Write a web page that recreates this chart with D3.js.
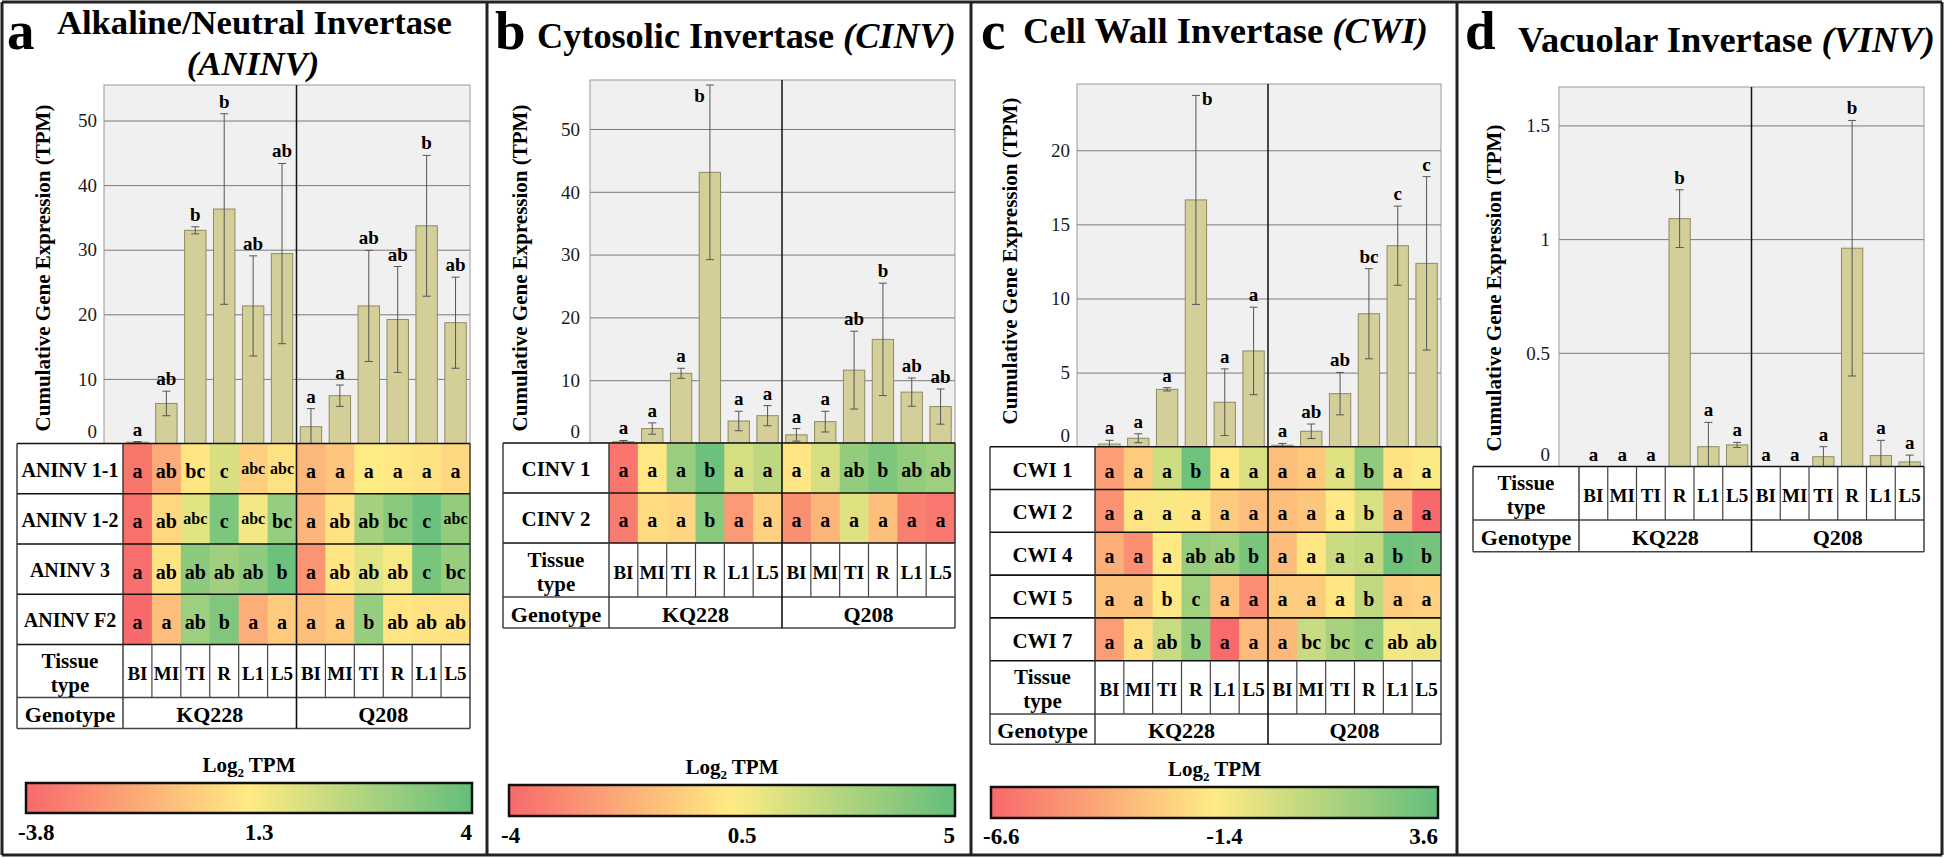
<!DOCTYPE html>
<html><head><meta charset="utf-8">
<script src="https://cdn.jsdelivr.net/npm/d3@7"></script>
<style>
body{margin:0;background:#fff;}
text{white-space:pre;}
</style></head><body>
<svg id="chart" width="1944" height="858" font-family="'Liberation Serif', 'Times New Roman', Tinos, 'DejaVu Serif', serif"></svg>
<script>
// ---------------- DATA ----------------
const tissues = ["BI","MI","TI","R","L1","L5"];
const genotypes = ["KQ228","Q208"];
const heatColors = ["#F8696B","#FFEB84","#63BE7B"];

// Panel a: ANINV
const aninvTicks = [0,10,20,30,40,50];
const aninvMean = [0.2, 6.2, 33.0, 36.3, 21.3, 29.4, 2.6, 7.4, 21.3, 19.2, 33.7, 18.7];
const aninvSE   = [0.1, 1.9, 0.55, 14.75, 7.75, 13.95, 2.8, 1.65, 8.6, 8.2, 10.9, 7.05];
const aninvBarLetters = ["a","ab","b","b","ab","ab","a","a","ab","ab","b","ab"];
const aninvGenes = ["ANINV 1-1","ANINV 1-2","ANINV 3","ANINV F2"];
const aninvHeat = [
  [-3.3, -1.25, 1.1, 2.0, 0.2, 0.9, -0.75, -0.2, 1.3, 1.2, 1.0, 0.55],
  [-3.5, 0.5, 1.8, 3.55, 1.5, 3.1, -0.8, 1.0, 2.85, 3.35, 3.85, 3.15],
  [-3.6, 1.0, 3.3, 2.95, 3.25, 3.85, -2.1, 1.1, 1.8, 1.45, 3.6, 3.1],
  [-3.8, -0.45, 3.0, 3.5, -1.1, 0.0, -0.5, 0.0, 3.1, 1.1, 1.0, 0.9]
];
const aninvHeatLetters = [
  ["a","ab","bc","c","abc","abc","a","a","a","a","a","a"],
  ["a","ab","abc","c","abc","bc","a","ab","ab","bc","c","abc"],
  ["a","ab","ab","ab","ab","b","a","ab","ab","ab","c","bc"],
  ["a","a","ab","b","a","a","a","a","b","ab","ab","ab"]
];
const aninvScale = [-3.8, 1.3, 4];

// Panel b: CINV
const cinvTicks = [0,10,20,30,40,50];
const cinvMean = [0.2, 2.3, 11.1, 43.1, 3.5, 4.35, 1.3, 3.4, 11.6, 16.5, 8.1, 5.8];
const cinvSE   = [0.2, 0.9, 0.8, 13.9, 1.55, 1.6, 1.0, 1.65, 6.2, 8.95, 2.25, 2.8];
const cinvBarLetters = ["a","a","a","b","a","a","a","a","ab","b","ab","ab"];
const cinvGenes = ["CINV 1","CINV 2"];
const cinvHeat = [
  [-3.6, 0.4, 3.4, 4.7, 1.7, 2.4, 0.3, 1.7, 3.6, 4.2, 3.6, 3.3],
  [-3.3, -0.05, -0.25, 3.9, -2.3, -0.45, -2.7, -1.4, 1.4, -1.0, -3.2, -3.5]
];
const cinvHeatLetters = [
  ["a","a","a","b","a","a","a","a","ab","b","ab","ab"],
  ["a","a","a","b","a","a","a","a","a","a","a","a"]
];
const cinvScale = [-4, 0.5, 5];

// Panel c: CWI
const cwiTicks = [0,5,10,15,20];
const cwiMean = [0.18, 0.57, 3.87, 16.65, 3.0, 6.46, 0.1, 1.04, 3.58, 8.97, 13.56, 12.37];
const cwiSE   = [0.25, 0.3, 0.11, 7.05, 2.25, 2.95, 0.12, 0.49, 1.43, 3.04, 2.67, 5.85];
const cwiBarLetters = ["a","a","a","b","a","a","a","ab","ab","bc","c","c"];
const cwiGenes = ["CWI 1","CWI 2","CWI 4","CWI 5","CWI 7"];
const cwiHeat = [
  [-4.5, -2.7, 0.15, 3.2, -1.5, -0.2, -3.2, -2.85, -0.4, 2.2, -1.75, -1.3],
  [-5.0, -1.7, -1.2, -1.6, -2.7, -3.2, -3.2, -2.9, -1.5, -0.15, -3.8, -6.6],
  [-3.85, -5.1, -1.5, 2.0, 1.75, 2.85, -3.3, -1.6, 0.3, 0.55, 3.2, 3.0],
  [-3.0, -3.0, -1.5, 1.6, -3.1, -5.15, -2.7, -2.65, -1.6, 0.6, -2.7, -2.5],
  [-4.5, -1.85, 0.35, 2.05, -6.55, -3.35, -3.4, 0.35, 1.35, 2.0, -1.0, -0.8]
];
const cwiHeatLetters = [
  ["a","a","a","b","a","a","a","a","a","b","a","a"],
  ["a","a","a","a","a","a","a","a","a","b","a","a"],
  ["a","a","a","ab","ab","b","a","a","a","a","b","b"],
  ["a","a","b","c","a","a","a","a","a","b","a","a"],
  ["a","a","ab","b","a","a","a","bc","bc","c","ab","ab"]
];
const cwiScale = [-6.6, -1.4, 3.6];

// Panel d: VINV
const vinvTicks = [0,0.5,1,1.5];
const vinvMean = [0, 0, 0, 1.09, 0.087, 0.095, 0, 0, 0.043, 0.96, 0.048, 0.02];
const vinvSE   = [0, 0, 0, 0.127, 0.107, 0.011, 0, 0, 0.044, 0.562, 0.067, 0.03];
const vinvBarLetters = ["a","a","a","b","a","a","a","a","a","b","a","a"];

// ---------------- DRAW ----------------
const FONT = "'Liberation Serif', 'Times New Roman', Tinos, 'DejaVu Serif', serif";
const svg = d3.select("#chart");
const defs = svg.append("defs");
const categories = genotypes.flatMap(g => tissues.map(t => g + "-" + t));

const panels = [
  {letter:"a", letterX:7, letterY:49,
   title:[{parts:[["Alkaline/Neutral Invertase",false]], x:57, y:34, anchor:"start", width:395},
          {parts:[["(ANINV)",true]], x:253, y:75, anchor:"middle"}],
   x0:104, x1:470, colX0:123, y0:85, yZero:443.5, yMax:55.5, ticks:aninvTicks, tickPad:7,
   ylab:{x:43, y:268},
   mean:aninvMean, se:aninvSE, barLetters:aninvBarLetters, side:"left",
   genes:aninvGenes, heat:aninvHeat, heatLetters:aninvHeatLetters, scale:aninvScale,
   tableX0:17, rowH:50.25, tissueH:53, genoH:31, geneFont:20, cellFont:20,
   cbar:{x0:26, x1:472, y0:783, h:30, labY:840}},
  {letter:"b", letterX:495, letterY:49,
   title:[{parts:[["Cytosolic Invertase ",false],["(CINV)",true]], x:537, y:48, anchor:"start", width:419}],
   x0:590, x1:955, colX0:609, y0:80, yZero:443, yMax:57.8, ticks:cinvTicks, tickPad:10,
   ylab:{x:520, y:268},
   mean:cinvMean, se:cinvSE, barLetters:cinvBarLetters, side:"left",
   genes:cinvGenes, heat:cinvHeat, heatLetters:cinvHeatLetters, scale:cinvScale,
   tableX0:503, rowH:50, tissueH:54, genoH:31, geneFont:21, cellFont:20,
   cbar:{x0:509, x1:955, y0:785, h:31, labY:843}},
  {letter:"c", letterX:981, letterY:49,
   title:[{parts:[["Cell Wall Invertase ",false],["(CWI)",true]], x:1023, y:43, anchor:"start", width:405}],
   x0:1077, x1:1441, colX0:1095, y0:84, yZero:446.7, yMax:24.47, ticks:cwiTicks, tickPad:7,
   ylab:{x:1010, y:261},
   mean:cwiMean, se:cwiSE, barLetters:cwiBarLetters, side:"right",
   genes:cwiGenes, heat:cwiHeat, heatLetters:cwiHeatLetters, scale:cwiScale,
   tableX0:990, rowH:42.8, tissueH:53.3, genoH:30.3, geneFont:21, cellFont:20,
   cbar:{x0:991, x1:1438, y0:787, h:31, labY:844}},
  {letter:"d", letterX:1465, letterY:49,
   title:[{parts:[["Vacuolar Invertase ",false],["(VINV)",true]], x:1518, y:52, anchor:"start", width:417}],
   x0:1559, x1:1924, colX0:1579, y0:87, yZero:466.5, yMax:1.669, ticks:vinvTicks, tickPad:9,
   ylab:{x:1494, y:288},
   mean:vinvMean, se:vinvSE, barLetters:vinvBarLetters, side:"left",
   genes:[], heat:[], heatLetters:[], scale:null,
   tableX0:1473, rowH:0, tissueH:53.5, genoH:31.7, geneFont:21, cellFont:20,
   cbar:null}
];

function T(sel){ return sel.append("text").attr("font-family", FONT); }

function drawPanel(p){
  const g = svg.append("g");
  // panel letter
  T(g).attr("x",p.letterX).attr("y",p.letterY)
    .attr("font-size",55).attr("font-weight","bold").text(p.letter);
  // title
  let fs = 36;
  p.title.forEach((ln,i)=>{
    const t = T(g).attr("x",ln.x).attr("y",ln.y).attr("text-anchor",ln.anchor)
      .attr("font-weight","bold").attr("font-size",36);
    ln.parts.forEach(([s,it]) => t.append("tspan").attr("font-style", it ? "italic" : "normal").text(s));
    if(i===0){ fs = Math.min(38, 36 * ln.width / t.node().getComputedTextLength()); }
    t.attr("font-size", fs);
  });

  const x = d3.scaleBand().domain(categories).range([p.colX0, p.x1]).paddingInner(0).paddingOuter(0);
  const y = d3.scaleLinear().domain([0, p.yMax]).range([p.yZero, p.y0]);
  const bw = x.bandwidth();
  const divX = x(categories[6]);

  // plot background
  g.append("rect").attr("x",p.x0).attr("y",p.y0).attr("width",p.x1-p.x0).attr("height",p.yZero-p.y0)
    .attr("fill","#f0f0f0");
  // gridlines
  const grid = g.append("g").attr("transform",`translate(${p.x0},0)`)
    .call(d3.axisLeft(y).tickValues(p.ticks.filter(t=>t>0)).tickSize(-(p.x1-p.x0)).tickFormat(""));
  grid.select(".domain").remove();
  grid.selectAll("line").attr("stroke","#7a7a7a").attr("stroke-width",1);
  // tick labels
  const ax = g.append("g").attr("transform",`translate(${p.x0},0)`)
    .call(d3.axisLeft(y).tickValues(p.ticks).tickSize(0).tickPadding(p.tickPad).tickFormat(d=>String(d)));
  ax.select(".domain").remove();
  ax.attr("font-family", FONT);
  ax.selectAll("text").attr("font-size",19).attr("fill","#1a1a1a").attr("font-family", FONT)
    .attr("dy", d => d===0 ? "-0.3em" : "0.33em");
  // y label
  const yl = T(g).attr("transform",`translate(${p.ylab.x},${p.ylab.y}) rotate(-90)`)
    .attr("text-anchor","middle").attr("dominant-baseline","central")
    .attr("font-weight","bold").attr("font-size",20).text("Cumulative Gene Expression (TPM)");
  yl.attr("font-size", Math.min(21, 20*335/yl.node().getComputedTextLength()));

  // bars
  const bars = categories.map((c,i)=>({c, m:p.mean[i], s:p.se[i], l:p.barLetters[i]}));
  const barW = bw*0.74;
  g.append("g").selectAll("rect").data(bars.filter(d=>d.m>0)).join("rect")
    .attr("x", d => x(d.c) + (bw-barW)/2).attr("width", barW)
    .attr("y", d => y(d.m)).attr("height", d => y(0)-y(d.m))
    .attr("fill","#d4cf98").attr("stroke","#8e8b62").attr("stroke-width",1);
  // error bars
  const eg = g.append("g").attr("stroke","#555").attr("stroke-width",1);
  bars.filter(d=>d.s>0).forEach(d=>{
    const cx = x(d.c)+bw/2;
    const hi = y(d.m+d.s), lo = y(Math.max(0,d.m-d.s));
    eg.append("line").attr("x1",cx).attr("x2",cx).attr("y1",hi).attr("y2",lo);
    eg.append("line").attr("x1",cx-4).attr("x2",cx+4).attr("y1",hi).attr("y2",hi);
    if(d.m-d.s>0) eg.append("line").attr("x1",cx-4).attr("x2",cx+4).attr("y1",lo).attr("y2",lo);
  });
  // significance letters
  bars.forEach(d=>{
    const cx = x(d.c)+bw/2;
    const top = y(d.m+d.s);
    const t = T(g).attr("font-weight","bold").attr("font-size",19).text(d.l);
    if(top - 6 - 14 < p.y0){
      if(p.side==="left") t.attr("x",cx-5).attr("y",top+17).attr("text-anchor","end");
      else t.attr("x",cx+6).attr("y",top+10).attr("text-anchor","start");
    } else {
      t.attr("x",cx).attr("y",top-6).attr("text-anchor","middle");
    }
  });
  // plot frame & divider
  g.append("rect").attr("x",p.x0).attr("y",p.y0).attr("width",p.x1-p.x0).attr("height",p.yZero-p.y0)
    .attr("fill","none").attr("stroke","#9a9a9a").attr("stroke-width",1);
  g.append("line").attr("x1",divX).attr("x2",divX).attr("y1",p.y0).attr("y2",p.yZero)
    .attr("stroke","#111").attr("stroke-width",1.5);

  // ---------- heatmap table ----------
  const tX0 = p.tableX0, tX1 = p.x1, lab1 = p.colX0;
  const hTop = p.yZero;
  const nR = p.genes.length;
  const hBot = hTop + nR*p.rowH;
  const tisBot = hBot + p.tissueH;
  const genBot = tisBot + p.genoH;
  const labCx = (tX0+lab1)/2;
  const tg = g.append("g");
  tg.append("rect").attr("x",tX0).attr("y",hTop).attr("width",tX1-tX0).attr("height",genBot-hTop).attr("fill","#fff");
  if(nR>0){
    const color = d3.scaleLinear().domain(p.scale).range(heatColors).interpolate(d3.interpolateRgb);
    p.genes.forEach((gene,r)=>{
      const ry = hTop + r*p.rowH;
      tg.selectAll(null).data(categories).join("rect")
        .attr("x", c => x(c)).attr("y", ry).attr("width", bw+0.6).attr("height", p.rowH)
        .attr("fill", (c,i) => color(p.heat[r][i]));
      tg.selectAll(null).data(categories).join("text").attr("font-family", FONT)
        .attr("x", c => x(c)+bw/2).attr("y", (c,i)=> ry + p.rowH/2 + (p.heatLetters[r][i].length>2 ? 5 : 0.42*p.cellFont+1))
        .attr("text-anchor","middle").attr("font-weight","bold")
        .attr("font-size", (c,i)=> p.heatLetters[r][i].length>2 ? 16 : p.cellFont)
        .text((c,i)=>p.heatLetters[r][i]);
      T(tg).attr("x",labCx).attr("y", ry + p.rowH/2 + 0.33*p.geneFont + 1.5)
        .attr("text-anchor","middle").attr("font-weight","bold").attr("font-size",p.geneFont).text(gene);
    });
  }
  // tissue row
  const tcy = hBot + p.tissueH/2;
  T(tg).attr("x",labCx).attr("y",tcy-3).attr("text-anchor","middle")
    .attr("font-weight","bold").attr("font-size",21).text("Tissue");
  T(tg).attr("x",labCx).attr("y",tcy+21).attr("text-anchor","middle")
    .attr("font-weight","bold").attr("font-size",21).text("type");
  tg.selectAll(null).data(categories).join("text").attr("font-family", FONT)
    .attr("x", c => x(c)+bw/2).attr("y", tcy + 0.36*19 + 2).attr("text-anchor","middle")
    .attr("font-weight","bold").attr("font-size",19).text((c,i)=>tissues[i%6]);
  // genotype row
  const gcy = tisBot + p.genoH/2;
  T(tg).attr("x",labCx).attr("y",gcy+0.33*22+2).attr("text-anchor","middle")
    .attr("font-weight","bold").attr("font-size",22).text("Genotype");
  genotypes.forEach((gt,k)=>{
    const gx0 = x(categories[k*6]), gx1 = x(categories[k*6+5]) + bw;
    T(tg).attr("x",(gx0+gx1)/2).attr("y",gcy+0.33*22+2).attr("text-anchor","middle")
      .attr("font-weight","bold").attr("font-size",22).text(gt);
  });
  // table lines
  const L = (x1,y1,x2,y2,c,w)=>tg.append("line").attr("x1",x1).attr("y1",y1).attr("x2",x2).attr("y2",y2)
      .attr("stroke",c).attr("stroke-width",w);
  for(let r=0;r<=nR;r++) L(tX0, hTop+r*p.rowH, tX1, hTop+r*p.rowH, "#111", 1.6);
  L(tX0, tisBot, tX1, tisBot, "#444", 1.4);
  L(tX0, genBot, tX1, genBot, "#444", 1.4);
  L(tX0, hTop, tX0, genBot, "#333", 1.4);
  L(tX1, hTop, tX1, genBot, "#333", 1.4);
  L(lab1, hTop, lab1, genBot, "#333", 1.4);
  L(divX, hTop, divX, genBot, "#111", 1.6);
  categories.forEach((c,i)=>{ if(i>0 && i!==6) L(x(c), hBot, x(c), tisBot, "#444", 1.2); });

  // ---------- colour bar ----------
  if(p.cbar){
    const cb = p.cbar;
    const gid = "grad-" + p.letter;
    const gr = defs.append("linearGradient").attr("id",gid).attr("x1","0%").attr("x2","100%").attr("y1","0%").attr("y2","0%");
    heatColors.forEach((col,i)=>gr.append("stop").attr("offset",(i*50)+"%").attr("stop-color",col));
    const cx = (cb.x0+cb.x1)/2;
    const tt = T(g).attr("x",cx).attr("y",cb.y0-11).attr("text-anchor","middle")
      .attr("font-weight","bold").attr("font-size",21);
    tt.append("tspan").text("Log");
    tt.append("tspan").attr("font-size",13).attr("dy",5).text("2");
    tt.append("tspan").attr("dy",-5).text(" TPM");
    g.append("rect").attr("x",cb.x0).attr("y",cb.y0).attr("width",cb.x1-cb.x0).attr("height",cb.h)
      .attr("fill",`url(#${gid})`).attr("stroke","#111").attr("stroke-width",2.5);
    const cbx = d3.scaleLinear().domain(p.scale).range([cb.x0-8, cx+10, cb.x1]);
    const anchors = ["start","middle","end"];
    p.scale.forEach((v,i)=>{
      T(g).attr("x",cbx(v)).attr("y",cb.labY).attr("text-anchor",anchors[i])
        .attr("font-weight","bold").attr("font-size",23).text(String(v));
    });
  }
}
panels.forEach(drawPanel);

// ---------- outer frames ----------
const fr = svg.append("g").attr("stroke","#222").attr("stroke-width",3);
[[2,2,1942,2],[2,855,1942,855],[2,2,2,855],[487,2,487,855],[971,2,971,855],[1457,2,1457,855],[1942,2,1942,855]]
  .forEach(([a,b,c,d])=>fr.append("line").attr("x1",a).attr("y1",b).attr("x2",c).attr("y2",d));
</script>
</body></html>
